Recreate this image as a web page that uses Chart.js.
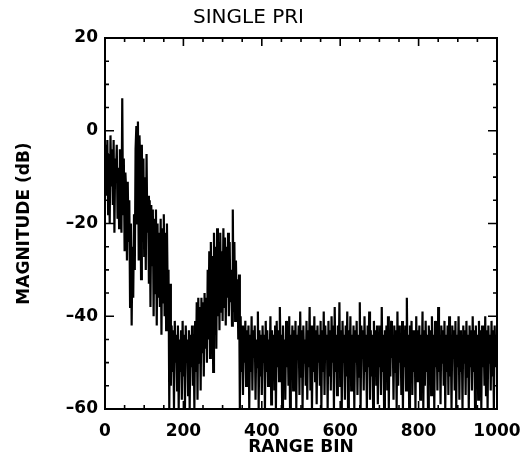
<!DOCTYPE html>
<html>
<head>
<meta charset="utf-8">
<title>Single PRI</title>
<script src="https://cdn.jsdelivr.net/npm/chart.js@4.4.1/dist/chart.umd.min.js"></script>
<style>
  html, body { margin: 0; padding: 0; background: #fff; }
  #wrap { width: 529px; height: 470px; }
</style>
</head>
<body>
<div id="wrap"><canvas id="pri" width="529" height="470"></canvas></div>
<script>
"use strict";

// magnitude (dB), one value every BIN_STEP range bins
const BIN_STEP = 2;
const magnitudeDb = [
  -8, -3, -14, -2, -18, -5, -20, -1, -12, -4,
  -16, -2, -22, -6, -10, -3, -19, -8, -21, -4,
  -14, -22, 7, -18, -6, -26, -9, -13, -28, -11,
  -24, -15, -38, -20, -42, -25, -36, -18, -30, -4,
  1, -20, 2, -28, -1, -8, -32, -3, -24, -6,
  -27, -10, -30, -5, -22, -14, -33, -15, -38, -16,
  -29, -17, -40, -19, -35, -17, -42, -20, -36, -22,
  -38, -19, -44, -21, -37, -18, -40, -22, -43, -20,
  -36, -30, -60, -33, -55, -42, -52, -43, -60, -41,
  -50, -44, -56, -42, -60, -45, -52, -43, -58, -41,
  -53, -44, -60, -42, -50, -45, -57, -43, -60, -44,
  -51, -42, -55, -44, -60, -41, -52, -37, -58, -36,
  -50, -38, -56, -36, -48, -37, -53, -35, -47, -36,
  -50, -30, -45, -26, -49, -24, -42, -27, -52, -22,
  -44, -25, -47, -21, -40, -24, -43, -22, -39, -26,
  -41, -21, -38, -23, -42, -25, -36, -22, -40, -24,
  -37, -30, -42, -17, -39, -24, -41, -28, -38, -32,
  -45, -31, -60, -40, -52, -42, -57, -44, -50, -41,
  -55, -43, -50, -42, -60, -44, -52, -40, -56, -43,
  -49, -42, -58, -45, -51, -39, -60, -43, -53, -44,
  -57, -42, -50, -44, -60, -41, -52, -43, -55, -45,
  -50, -40, -59, -43, -52, -44, -56, -42, -60, -41,
  -51, -43, -54, -38, -49, -44, -60, -42, -53, -45,
  -58, -41, -51, -43, -55, -40, -60, -44, -50, -42,
  -56, -43, -52, -41, -60, -44, -49, -42, -57, -39,
  -53, -43, -60, -42, -50, -45, -55, -41, -58, -43,
  -51, -38, -56, -42, -60, -44, -52, -40, -54, -43,
  -59, -42, -50, -44, -55, -41, -60, -43, -52, -39,
  -57, -42, -49, -44, -60, -41, -53, -43, -56, -40,
  -50, -42, -60, -38, -52, -44, -57, -42, -51, -37,
  -55, -43, -60, -41, -50, -44, -58, -42, -53, -39,
  -60, -43, -51, -40, -56, -44, -52, -42, -60, -43,
  -50, -41, -57, -44, -53, -37, -60, -42, -49, -43,
  -56, -40, -52, -44, -60, -42, -51, -39, -58, -43,
  -53, -44, -60, -41, -50, -43, -55, -42, -59, -44,
  -51, -42, -57, -38, -52, -44, -60, -43, -50, -42,
  -56, -40, -60, -43, -53, -41, -49, -44, -58, -42,
  -52, -43, -60, -39, -55, -42, -50, -44, -57, -41,
  -60, -43, -51, -42, -56, -36, -53, -44, -60, -42,
  -50, -41, -57, -43, -52, -44, -60, -40, -54, -43,
  -49, -42, -58, -44, -51, -39, -60, -43, -55, -41,
  -52, -44, -60, -42, -50, -43, -57, -40, -53, -44,
  -60, -41, -51, -43, -56, -38, -52, -44, -59, -42,
  -50, -43, -55, -41, -60, -44, -52, -42, -57, -40,
  -53, -44, -60, -42, -49, -43, -56, -41, -60, -44,
  -51, -40, -58, -43, -52, -44, -60, -42, -50, -43,
  -57, -41, -53, -44, -60, -42, -51, -43, -56, -40,
  -52, -43, -60, -42, -50, -44, -58, -41, -53, -43,
  -60, -42, -51, -44, -55, -40, -57, -43, -60, -42,
  -50, -44, -56, -41, -53, -43, -60, -42, -51, -44,
  -47
];
const xTicks = [0, 200, 400, 600, 800, 1000];
const yTicks = [-60, -40, -20, 0, 20];

const points = magnitudeDb.map((v, i) => ({ x: i * BIN_STEP, y: v }));

// box round the plot with the little inward ticks
const frameTicks = {
  id: "frameTicks",
  afterDraw(chart) {
    const { ctx, chartArea: a, scales } = chart;
    const xs = scales.x, ys = scales.y;
    ctx.save();
    ctx.strokeStyle = "#000";
    ctx.lineWidth = 2;
    ctx.strokeRect(a.left, a.top, a.right - a.left, a.bottom - a.top);
    ctx.lineWidth = 1.6;
    ctx.beginPath();
    for (let v = 0; v <= 1000; v += 50) {
      const px = xs.getPixelForValue(v);
      const len = v % 200 === 0 ? 8 : 4;
      ctx.moveTo(px, a.top); ctx.lineTo(px, a.top + len);
      ctx.moveTo(px, a.bottom); ctx.lineTo(px, a.bottom - len);
    }
    for (let v = -60; v <= 20; v += 5) {
      const py = ys.getPixelForValue(v);
      const len = v % 20 === 0 ? 9 : 4;
      ctx.moveTo(a.left, py); ctx.lineTo(a.left + len, py);
      ctx.moveTo(a.right, py); ctx.lineTo(a.right - len, py);
    }
    ctx.stroke();
    ctx.restore();
  }
};

const tickFont = { family: "'DejaVu Sans', sans-serif", size: 17, weight: "bold" };
const titleFont = { family: "'DejaVu Sans', sans-serif", size: 17, weight: "bold" };

new Chart(document.getElementById("pri").getContext("2d"), {
  type: "line",
  data: {
    datasets: [{
      data: points,
      borderColor: "#000",
      borderWidth: 2.2,
      pointRadius: 0,
      tension: 0,
      fill: false
    }]
  },
  options: {
    responsive: false,
    animation: false,
    layout: { padding: { left: 0, right: 32, top: 0, bottom: 0 } },
    plugins: {
      legend: { display: false },
      tooltip: { enabled: false },
      title: {
        display: true,
        text: "SINGLE PRI",
        color: "#000",
        font: { family: "'DejaVu Sans', sans-serif", size: 20, weight: "normal" },
        padding: { top: 6, bottom: 8 }
      }
    },
    scales: {
      x: {
        type: "linear",
        min: 0,
        max: 1000,
        afterFit: s => { s.height = 61; s.paddingLeft = 0; s.paddingRight = 0; },
        afterBuildTicks: s => { s.ticks = xTicks.map(v => ({ value: v })); },
        grid: { display: false, drawTicks: false },
        border: { display: false },
        ticks: { color: "#000", font: tickFont, padding: 12, maxRotation: 0, callback: v => String(v) },
        title: { display: true, text: "RANGE BIN", color: "#000", font: titleFont, padding: { top: 0, bottom: 12 } }
      },
      y: {
        min: -60,
        max: 20,
        afterFit: s => { s.width = 105; s.paddingTop = 0; s.paddingBottom = 0; },
        afterBuildTicks: s => { s.ticks = yTicks.map(v => ({ value: v })); },
        grid: { display: false, drawTicks: false },
        border: { display: false },
        ticks: {
          color: "#000",
          font: tickFont,
          padding: 7,
          callback: v => (v < 0 ? "\u2013" + Math.abs(v) : String(v))
        },
        title: { display: true, text: "MAGNITUDE (dB)", color: "#000", font: titleFont, padding: { top: 14, bottom: 0 } }
      }
    }
  },
  plugins: [frameTicks]
});
</script>
</body>
</html>
